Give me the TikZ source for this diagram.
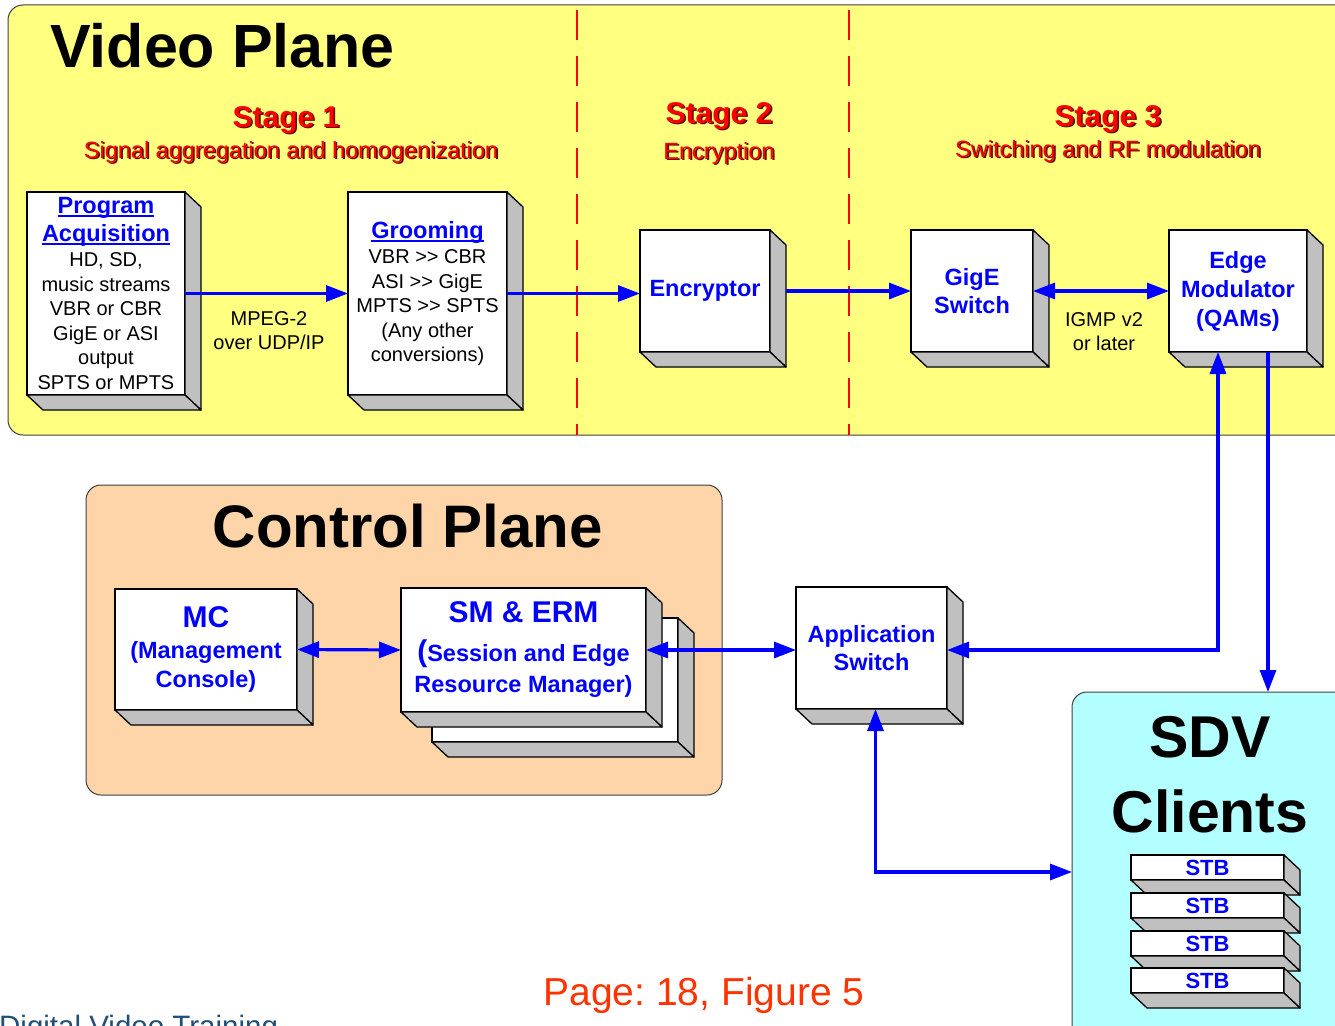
\documentclass[tikz,border=0pt]{standalone}
\usepackage{fontspec}
\setmainfont{Liberation Sans}
\usetikzlibrary{arrows.meta,calc}
\frenchspacing
\definecolor{vpyellow}{RGB}{255,255,128}
\definecolor{cppeach}{RGB}{253,213,168}
\definecolor{sdvcyan}{RGB}{179,255,255}
\definecolor{facegray}{RGB}{192,192,192}
\definecolor{boxblue}{RGB}{0,0,255}
\definecolor{stagered}{RGB}{255,0,0}
\definecolor{stageshadow}{RGB}{90,14,0}
\definecolor{pagered}{RGB}{255,51,0}
\definecolor{footblue}{RGB}{31,78,121}
\definecolor{planeedge}{RGB}{64,64,64}
\newcommand\tf{\fontsize{23.5}{24.5}\selectfont\bfseries\color{boxblue}}
\newcommand\bodyf{\fontsize{20}{24.5}\selectfont\mdseries\color{black}}
\newcommand\ul[1]{\leavevmode\setbox0\hbox{#1}\rlap{\rule[-3.5pt]{\wd0}{2pt}}\box0}
\newcommand\cubesides[1]{%
  \filldraw[sideface] (#1.north east) -- ++(16,15) -- ($(#1.south east)+(16,15)$) -- (#1.south east) -- cycle;
  \filldraw[sideface] (#1.south west) -- ($(#1.south west)+(16,15)$) -- ($(#1.south east)+(16,15)$) -- (#1.south east) -- cycle;}
\newcommand\cube[7][]{%
  \node[front, #1, minimum width={#5-#3}, minimum height={#6-#4}] (#2) at ({(#3+#5)/2},{(#4+#6)/2}) {#7};
  \cubesides{#2}}
\newcommand\shadowtext[5]{%
  \node[anchor=base, text=stageshadow, font=#4, inner sep=0pt] (#1sh) at ({#2+1.6},{#3+1.6}) {#5};
  \node[anchor=base, text=stagered, font=#4, inner sep=0pt] (#1) at (#2,#3) {#5};}
\begin{document}
\begin{tikzpicture}[x=1pt,y=-1pt,
  plane/.style={draw=planeedge, line width=1pt, rounded corners=15pt, inner sep=0pt, outer sep=0pt},
  front/.style={draw=black, line width=1.3pt, fill=white, inner sep=0pt, outer sep=0pt, align=center,
    font=\fontsize{23.5}{28}\selectfont\bfseries, text=boxblue},
  listbox/.style={font=\fontsize{20}{24.5}\selectfont},
  sideface/.style={draw=black, line width=1.3pt, fill=facegray, line join=round},
  stageline/.style={draw=stagered, line width=2pt, dash pattern=on 30pt off 16pt},
  flow/.style={draw=boxblue, line width=3.2pt, -{Triangle[length=22pt,width=16pt]}},
  biflow/.style={draw=boxblue, line width=3.2pt, {Triangle[length=22pt,width=16pt]}-{Triangle[length=22pt,width=16pt]}},
  lbl/.style={font=\fontsize{20}{24}\selectfont, align=center, inner sep=0pt}]
\useasboundingbox (0,0) rectangle (1335,1025);
\clip (0,0) rectangle (1335,1025);
\fill[white] (0,0) rectangle (1335,1025);

% planes
\node[plane, fill=vpyellow, minimum width=1360, minimum height=430, anchor=north west] (vp) at (8,5) {};
\node[plane, fill=cppeach, minimum width=636, minimum height=310, anchor=north west] (cp) at (86,485) {};
\node[plane, fill=sdvcyan, minimum width=288, minimum height=360, anchor=north west] (sdv) at (1072,692) {};

% stage separators
\draw[stageline] (577,10) -- (577,435);
\draw[stageline] (849,10) -- (849,435);

% titles
\node[font=\fontsize{61}{61}\selectfont\bfseries, anchor=base west, inner sep=0pt] (vptitle) at (50,67) {Video Plane};
\node[font=\fontsize{60}{60}\selectfont\bfseries, anchor=base, inner sep=0pt] (cptitle) at (408,547) {Control Plane};
\node[font=\fontsize{59}{75}\selectfont\bfseries, align=center, anchor=base, inner sep=0pt] (sdvtitle) at (1210,832) {SDV\\ Clients};

\shadowtext{stA}{286}{127}{\fontsize{30}{30}\selectfont\bfseries}{Stage 1}
\shadowtext{stAsub}{291}{158}{\fontsize{23.5}{24}\selectfont}{Signal aggregation and homogenization}
\shadowtext{stB}{719}{123}{\fontsize{30}{30}\selectfont\bfseries}{Stage 2}
\shadowtext{stBsub}{719}{159}{\fontsize{23.5}{24}\selectfont}{Encryption}
\shadowtext{stC}{1108}{126}{\fontsize{30}{30}\selectfont\bfseries}{Stage 3}
\shadowtext{stCsub}{1108}{157}{\fontsize{23.5}{24}\selectfont}{Switching and RF modulation}

% video plane boxes
\cube[listbox]{pa}{27}{192}{185}{395}{\tf\ul{Program}\\[3.5pt] \tf\ul{Acquisition}\\[0.5pt]
  \bodyf HD, SD,\\ \bodyf music streams\\ \bodyf VBR or CBR\\ \bodyf GigE or ASI\\ \bodyf output\\ \bodyf SPTS or MPTS}
\cube[listbox]{groom}{348}{192}{507}{395}{\tf\ul{Grooming}\\[1pt] \bodyf VBR >{}> CBR\\ \bodyf ASI >{}> GigE\\
  \bodyf MPTS >{}> SPTS\\ \bodyf (Any other\\ \bodyf conversions)}
\cube{enc}{640}{230}{770}{352}{Encryptor}
\cube{gige}{911}{230}{1033}{352}{GigE\\ Switch}
\cube{edge}{1169}{230}{1307}{352}{Edge\\[1pt] Modulator\\[1pt] (QAMs)}

% control plane boxes
\node[front, minimum width=246, minimum height=124] (smback) at (555,680) {};
\cubesides{smback}
\cube{sm}{401}{588}{646}{712}{\fontsize{30}{30}\selectfont SM \& ERM\\[11pt]
  {\fontsize{30}{30}\selectfont(}Session and Edge\\[3pt] Resource Manager)}
\cube{mc}{115}{589}{297}{710}{\fontsize{30}{30}\selectfont MC\\[3pt] (Management\\[1pt] Console)}
\cube{appsw}{796}{587}{947}{709}{Application\\ Switch}

% STBs
\cube{stbA}{1131}{855}{1284}{880}{\fontsize{22}{22}\selectfont STB}
\cube{stbB}{1131}{893}{1284}{918}{\fontsize{22}{22}\selectfont STB}
\cube{stbC}{1131}{931}{1284}{956}{\fontsize{22}{22}\selectfont STB}
\cube{stbD}{1131}{968}{1284}{993}{\fontsize{22}{22}\selectfont STB}

% labels
\node[lbl] (mpeg) at (269,331) {MPEG-2\\ over UDP/IP};
\node[lbl] (igmp) at (1104,332) {IGMP v2\\ or later};

% connectors
\draw[flow] (pa.east) -- (groom.west);
\draw[flow] (groom.east) -- (groom.east -| enc.west);
\draw[flow] ([xshift=16pt]enc.east) -- (gige.west);
\draw[biflow] (gige.east) -- (edge.west);
\draw[biflow] ([xshift=-20pt]edge.south) |- ([yshift=-2pt]appsw.east);
\draw[flow] ([xshift=30pt]edge.south) -- ([xshift=30pt]edge.south |- sdv.north);
\draw[biflow] ([xshift=4pt]appsw.south) |- (sdv.west);
\draw[biflow] (mc.east) -- (sm.west);
\draw[biflow] (sm.east) -- (sm.east -| appsw.west);

% footer
\node[font=\fontsize{39}{39}\selectfont, text=pagered, anchor=base, inner sep=0pt] (page) at (704,1005) {Page: 18, Figure 5};
\node[font=\fontsize{29.5}{30}\selectfont, text=footblue, anchor=base west, inner sep=0pt] (foot) at (-1,1036) {Digital Video Training};
\end{tikzpicture}
\end{document}
